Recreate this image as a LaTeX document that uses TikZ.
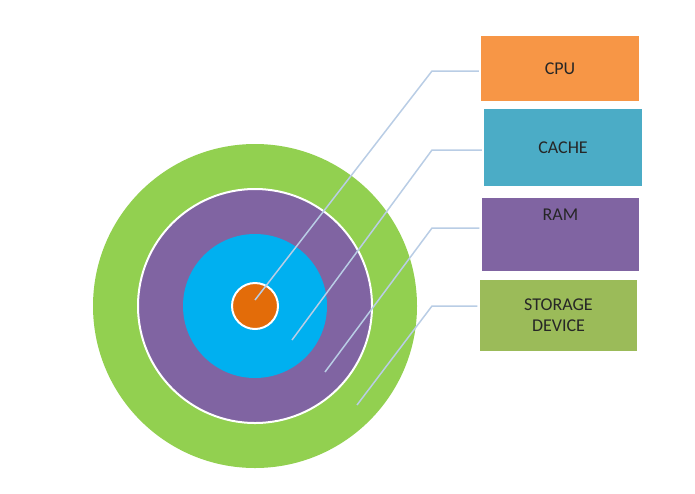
\documentclass[tikz,border=0pt]{standalone}
\usepackage{fontspec}
\setmainfont{Carlito}
\usetikzlibrary{shadows}
\begin{document}
\begin{tikzpicture}[x=1pt,y=-1pt,
  ring/.style={draw=white,line width=2pt},
  lead/.style={draw=lineblue,line width=1.5pt},
  box/.style={draw=white,line width=2.5pt,minimum width=160pt,inner sep=0pt,font=\fontsize{18}{21}\selectfont,text=black!85,align=center,drop shadow={shadow xshift=1pt,shadow yshift=-1pt,opacity=0.3}}]
\definecolor{cgreen}{HTML}{92D050}
\definecolor{cpurple}{HTML}{8064A2}
\definecolor{cblue}{HTML}{00B0F0}
\definecolor{corange}{HTML}{E36C09}
\definecolor{bcpu}{HTML}{F79646}
\definecolor{bcache}{HTML}{4BACC6}
\definecolor{bstor}{HTML}{9BBB59}
\definecolor{lineblue}{HTML}{B9CDE5}
\useasboundingbox (0,0) rectangle (695,493);
\fill[cgreen] (255,306) circle (162);
\draw[ring,fill=cpurple] (255,306) circle (117);
\fill[cblue] (255,306) circle (72);
\draw[ring,fill=corange] (255,306) circle (23);
\node[box,fill=bcpu,minimum height=67pt] (cpu) at (560,68.5) {CPU};
\node[box,fill=bcache,minimum height=79pt] (cache) at (563,147.5) {CACHE};
\node[box,fill=cpurple,minimum height=75pt,text depth=40pt] (ram) at (560.5,234.5) {RAM};
\node[box,fill=bstor,minimum height=73pt] (stor) at (558.5,315.5) {STORAGE\\DEVICE};
\coordinate (p1) at (255,300); \coordinate (k1) at (432,71);
\coordinate (p2) at (292,340); \coordinate (k2) at (432,150);
\coordinate (p3) at (325,372); \coordinate (k3) at (432,228);
\coordinate (p4) at (357,405); \coordinate (k4) at (432,306);
\draw[lead] (p1) -- (k1) -- (cpu.west|-k1);
\draw[lead] (p2) -- (k2) -- (cache.west|-k2);
\draw[lead] (p3) -- (k3) -- (ram.west|-k3);
\draw[lead] (p4) -- (k4) -- (stor.west|-k4);
\end{tikzpicture}
\end{document}
